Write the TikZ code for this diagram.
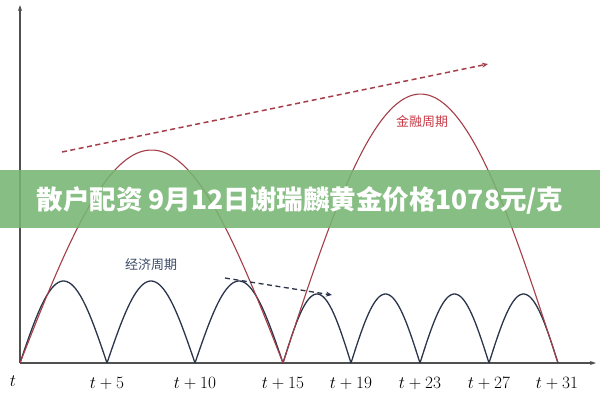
\documentclass[tikz,border=0pt]{standalone}
\usepackage{fontspec}
\newfontfamily\cjk{Noto Sans CJK SC}
\usetikzlibrary{arrows.meta}
\definecolor{fin}{RGB}{165,62,72}
\definecolor{finlbl}{RGB}{200,60,72}
\definecolor{eco}{RGB}{42,52,74}
\definecolor{ecolbl}{RGB}{60,75,105}
\definecolor{axisc}{RGB}{80,80,80}
\definecolor{band}{RGB}{118,182,114}
\tikzset{
  axisline/.style={draw=axisc, line width=1.4pt, -{Stealth[length=6pt,width=4pt]}},
  bigarc/.style={draw=fin, line width=1.1pt},
  smallarc/.style={draw=eco, line width=1.3pt},
  reddash/.style={draw=fin, line width=1.5pt, dash pattern=on 5pt off 3.5pt, -{Stealth[length=6pt,width=5pt]}},
  bluedash/.style={draw=eco, line width=1.3pt, dash pattern=on 5pt off 3.5pt, -{Stealth[length=6pt,width=5pt]}},
  ticklbl/.style={font=\fontsize{18}{18}\selectfont, inner sep=0pt},
  cyclbl/.style={font=\cjk\fontsize{13}{14}\selectfont, inner sep=0pt},
}
\begin{document}
\begin{tikzpicture}[x=1pt,y=-1pt]
\useasboundingbox (0,0) rectangle (600,400);
\fill[white] (0,0) rectangle (600,400);
% axes
\coordinate (O) at (20,363);
\coordinate (Ytop) at (20,5);
\coordinate (Xend) at (596,363);
\draw[axisline] (O) -- (Ytop);
\draw[axisline] (O) -- (Xend);
% small economic arcs
\foreach \a/\b/\h in {20/107/82, 107/195/82, 195/283/82, 283/351/69, 351/420/69, 420/489/69, 489/558/69}{
  \draw[smallarc] plot[domain=0:1, samples=40, smooth] ({\a+(\b-\a)*\x},{363-\h*sin(180*\x)});
}
% big financial arcs
\draw[bigarc] plot[domain=0:1, samples=80, smooth] ({20+263*\x},{363-213*sin(180*\x)});
\draw[bigarc] plot[domain=0:1, samples=80, smooth] ({283+275*\x},{363-269*sin(180*\x)});
% dashed trend arrows
\coordinate (r1) at (62,152);
\coordinate (r2) at (488,64);
\draw[reddash] (r1) -- (r2);
\coordinate (b1) at (225,278);
\coordinate (b2) at (332,295);
\draw[bluedash] (b1) -- (b2);
% cycle labels
\node[cyclbl, text=finlbl] (fin) at (422,122) {金融周期};
\node[cyclbl, text=ecolbl] (eco) at (151,265) {经济周期};
% tick labels
\node[ticklbl] (t0) at (13,381) {$t$};
\node[ticklbl] (t5) at (107,383) {$t+5$};
\node[ticklbl] (t10) at (195,383) {$t+10$};
\node[ticklbl] (t15) at (283,383) {$t+15$};
\node[ticklbl] (t19) at (351,383) {$t+19$};
\node[ticklbl] (t23) at (420,383) {$t+23$};
\node[ticklbl] (t27) at (489,383) {$t+27$};
\node[ticklbl] (t31) at (557,383) {$t+31$};
% banner
\fill[band, opacity=0.88] (0,170) rectangle (600,228);
\node[text=white, font=\cjk\bfseries\fontsize{26.5}{27}\selectfont, inner sep=0pt] (title) at (300,200) {散户配资 9月12日谢瑞麟黄金价格1078元/克};
\end{tikzpicture}
\end{document}
